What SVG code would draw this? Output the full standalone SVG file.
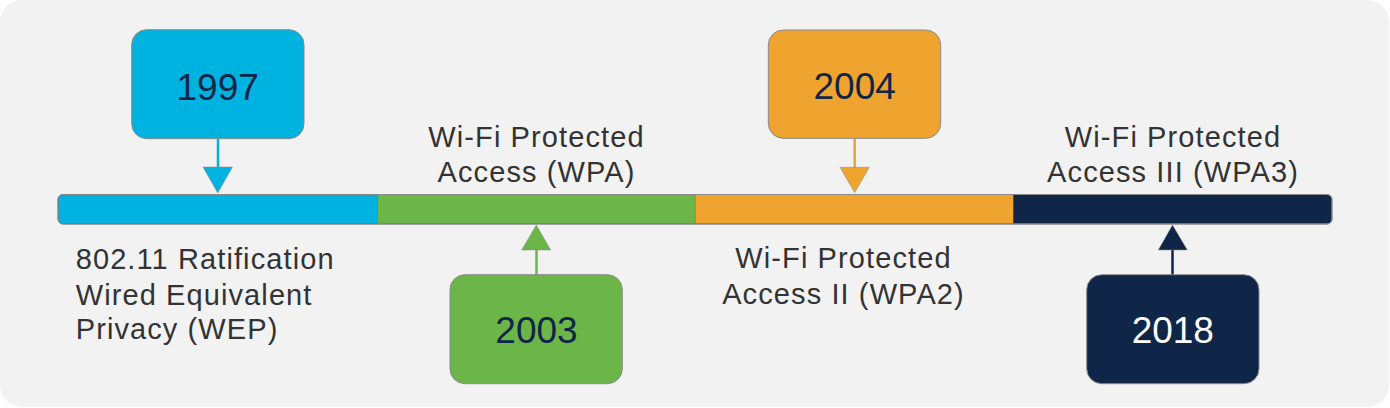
<svg xmlns="http://www.w3.org/2000/svg" width="1390" height="408" viewBox="0 0 1390 408">
<style>
.lbl{font-family:"Liberation Sans",Arial,sans-serif;font-size:29px;fill:#333333;letter-spacing:1.1px}
.yr{font-family:"Liberation Sans",Arial,sans-serif;font-size:37px;fill:#0f2648;text-anchor:middle}
.box{stroke:#8a8a8a;stroke-width:1}
.seg{stroke:none}
</style>
<rect x="0" y="0" width="1389" height="407" rx="22" fill="#f2f2f2"/>
<g id="timeline">
<rect x="58" y="194.5" width="1274" height="29.5" rx="5" fill="#0f2648" stroke="#8a8a8a" stroke-width="1"/>
<path d="M63,195 H377.3 V223.5 H63 Q58.5,223.5 58.5,219 V199.5 Q58.5,195 63,195 Z" fill="#00b2e0"/>
<rect x="377.3" y="195" width="318" height="28.5" fill="#6cb548"/>
<rect x="695.3" y="195" width="318" height="28.5" fill="#eea42e"/>
<rect x="58" y="194.5" width="1274" height="29.5" rx="5" fill="none" stroke="#8a8a8a" stroke-width="1"/>
</g>
<g id="connectors">
<line x1="218" y1="139" x2="218" y2="168" stroke="#00b2e0" stroke-width="2.5"/>
<polygon points="203,167 232.5,167 217.7,193" fill="#00b2e0" stroke="#8a8a8a" stroke-width="0.5"/>
<line x1="536.5" y1="249" x2="536.5" y2="275" stroke="#6cb548" stroke-width="2.5"/>
<polygon points="521.7,250 550.7,250 536.3,225" fill="#6cb548" stroke="#8a8a8a" stroke-width="0.5"/>
<line x1="854.7" y1="138.5" x2="854.7" y2="168" stroke="#eea42e" stroke-width="2.5"/>
<polygon points="840,167.3 869.3,167.3 854.7,192.7" fill="#eea42e" stroke="#8a8a8a" stroke-width="0.5"/>
<line x1="1172.5" y1="249" x2="1172.5" y2="275" stroke="#0f2648" stroke-width="2.5"/>
<polygon points="1158.3,250 1187.3,250 1172.5,225" fill="#0f2648" stroke="#8a8a8a" stroke-width="0.5"/>
</g>
<g id="node-1997">
<rect class="box" x="131.7" y="29.7" width="172.3" height="109" rx="15" fill="#00b2e0"/>
<text class="yr" x="217.7" y="100">1997</text>
</g>
<g id="node-2003">
<rect class="box" x="450" y="274.7" width="172.3" height="109" rx="15" fill="#6cb548"/>
<text class="yr" x="536.5" y="343.3">2003</text>
</g>
<g id="node-2004">
<rect class="box" x="768.3" y="30" width="172.4" height="108.3" rx="15" fill="#eea42e"/>
<text class="yr" x="854.7" y="99.3">2004</text>
</g>
<g id="node-2018">
<rect class="box" x="1086.7" y="274.7" width="172.3" height="109" rx="15" fill="#0f2648"/>
<text class="yr" x="1172.8" y="343.3" fill="#ffffff" style="fill:#ffffff">2018</text>
</g>
<g id="label-wep">
<text class="lbl" x="75.7" y="269.3">802.11 Ratification</text>
<text class="lbl" x="75.7" y="305">Wired Equivalent</text>
<text class="lbl" x="75.7" y="339.3">Privacy (WEP)</text>
</g>
<g id="label-wpa">
<text class="lbl" x="536.5" y="146.7" text-anchor="middle">Wi-Fi Protected</text>
<text class="lbl" x="536.5" y="182.3" text-anchor="middle">Access (WPA)</text>
</g>
<g id="label-wpa2">
<text class="lbl" x="843.5" y="268.3" text-anchor="middle">Wi-Fi Protected</text>
<text class="lbl" x="843.5" y="304" text-anchor="middle">Access II (WPA2)</text>
</g>
<g id="label-wpa3">
<text class="lbl" x="1173" y="146.7" text-anchor="middle">Wi-Fi Protected</text>
<text class="lbl" x="1173" y="182.3" text-anchor="middle">Access III (WPA3)</text>
</g>
</svg>
